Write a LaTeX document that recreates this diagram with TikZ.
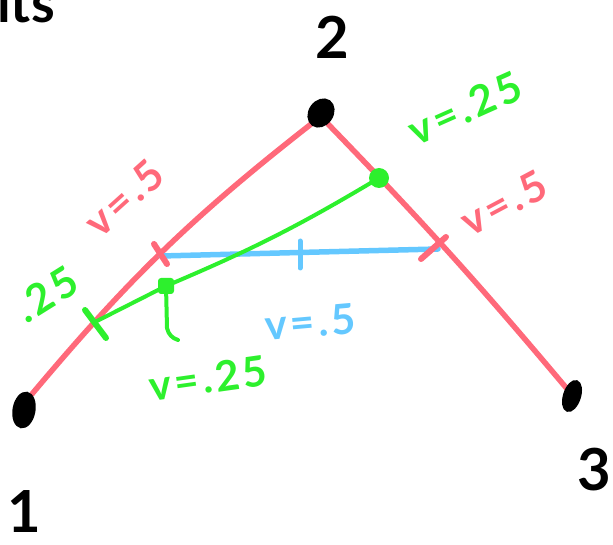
\documentclass[tikz,border=0pt]{standalone}
\usepackage{fontspec}
\setsansfont{Lato}
\usetikzlibrary{calc,shapes.geometric,backgrounds}

\definecolor{penred}{RGB}{255,105,122}
\definecolor{pengreen}{RGB}{45,240,45}
\definecolor{penblue}{RGB}{100,200,255}

\begin{document}
\begin{tikzpicture}[
  x=1pt,y=-1pt,
  font=\sffamily,
  vertex/.style={ellipse,draw=black,fill=black,line width=3pt,
                 minimum width=20pt,minimum height=34pt,inner sep=0pt},
  vlbl/.style={font=\sffamily\bfseries\fontsize{58}{58}\selectfont,text=black},
  redpen/.style={draw=penred,line width=5.5pt,line cap=round},
  greenpen/.style={draw=pengreen,line width=4pt,line cap=round},
  bluepen/.style={draw=penblue,line width=5.5pt,line cap=round},
  tick/.style={line width=6pt,line cap=round},
  wlbl/.style={font=\sffamily\bfseries\fontsize{42}{42}\selectfont
               \addfontfeatures{LetterSpace=8}},
]
\useasboundingbox (0,0) rectangle (613,545);

% ---- cropped heading at the top edge ----
\node[anchor=base west,inner sep=0pt,
      font=\sffamily\bfseries\fontsize{54}{54}\selectfont] (head) at (-3,23) {its};

% ---- the three vertices and their numbers ----
\node[vertex,rotate=-10] (v1) at (24,410) {};
\node[vertex,rotate=-35,minimum width=22pt,minimum height=28pt] (v2) at (321,113) {};
\node[vertex,rotate=-18,minimum width=15pt,minimum height=30pt] (v3) at (572,396) {};
\node[vlbl] (n1) at (24,512) {1};
\node[vlbl] (n2) at (332,37) {2};
\node[vlbl] (n3) at (594,470) {3};

% ---- red edges of the triangle, under the vertices ----
\begin{scope}[on background layer]
  \draw[redpen] (32,394) to[bend left=6] (315,121);
  \draw[redpen] (328,124) to[bend left=2] (568,390);
\end{scope}

% points on the edges
\coordinate (m12) at (161,256);
\coordinate (q12) at (95,322);
\coordinate (m23) at (438,249);
\coordinate (p23) at (379,178);
\coordinate (g)   at (166,286);

% ---- blue line between the two midpoints ----
\draw[bluepen] (m12) -- (m23);
\draw[bluepen,line width=5pt] (300,241) -- (300,268);

% ---- green line from the quarter point to the edge 2-3 ----
\draw[greenpen] (q12) -- (g) to[bend right=4] (p23);
\fill[pengreen] (p23) circle (10);
\fill[pengreen,rounded corners=3pt] ($(g)+(-8,-8)$) rectangle ($(g)+(8,8)$);
\draw[greenpen] (g) -- (167,328) to[bend right=30] (178,340);

% ---- ticks on the red edges ----
\draw[penred,tick] (154,244) -- (167,264);
\draw[penred,tick] (421,259) -- (446,237);
\draw[pengreen,tick] (85,310) -- (106,338);

% ---- labels ----
\node[wlbl,text=penred,rotate=42] (l12) at (124,198) {v=.5};
\node[wlbl,text=penred,rotate=28] (l23) at (504,203) {v=.5};
\node[wlbl,text=penblue,rotate=5] (lb) at (310,322) {v=.5};
\node[wlbl,text=pengreen,rotate=32] (lq) at (46,294) {.25};
\node[wlbl,text=pengreen,rotate=24] (lp) at (465,108) {v=.25};
\node[wlbl,text=pengreen,rotate=8] (lg) at (208,378) {v=.25};
\end{tikzpicture}
\end{document}
